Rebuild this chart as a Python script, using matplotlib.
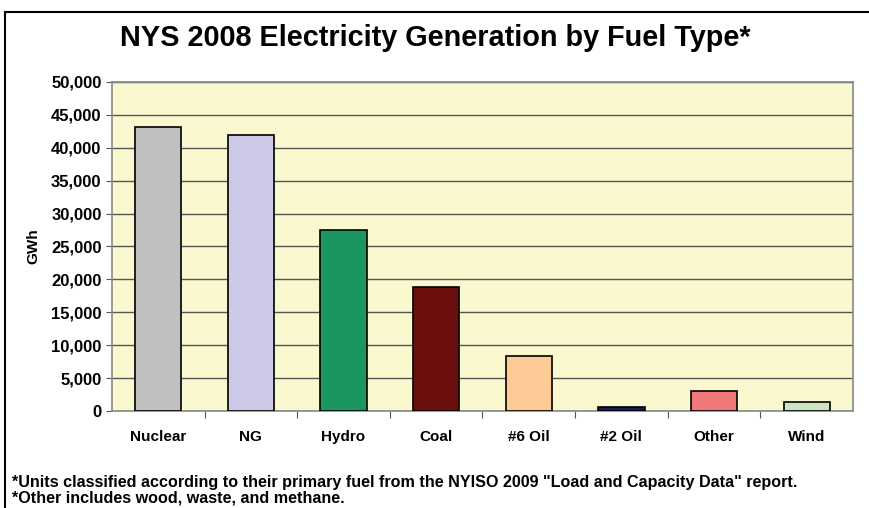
import matplotlib.pyplot as plt
from matplotlib.patches import Rectangle
from matplotlib.ticker import FuncFormatter

fuels = ['Nuclear', 'NG', 'Hydro', 'Coal', '#6 Oil', '#2 Oil', 'Other', 'Wind']
gwh = [43200, 41900, 27500, 18800, 8400, 560, 3050, 1300]
colors = ['#C0C0C0', '#CCCAE6', '#1A9660', '#6B0F0F', '#FCCB96', '#131B5E', '#F07878', '#CCE6C4']

plt.rcParams['font.family'] = ['Liberation Sans', 'DejaVu Sans']

fig = plt.figure(figsize=(8.7, 5.08), dpi=100)
W, H = 870, 508
ax = fig.add_axes([112 / W, 1 - 411 / H, (853 - 112) / W, (411 - 82) / H])

# outer frame
fig.add_artist(Rectangle((5 / W, -0.1), 1.2, 1 - 12 / H + 0.1, transform=fig.transFigure,
                         fill=False, edgecolor='black', linewidth=1.5))

x = range(len(fuels))
ax.set_facecolor('#FAF8CE')
ax.bar(x, gwh, width=0.5, color=colors, edgecolor='black', linewidth=1.2, zorder=3)
ax.set_xlim(-0.5, len(fuels) - 0.5)
ax.set_ylim(0, 50000)
ax.set_yticks(range(0, 50001, 5000))
ax.yaxis.set_major_formatter(FuncFormatter(lambda v, p: f'{int(v):,}'))
ax.grid(axis='y', color='#555555', linewidth=1, zorder=0)
ax.set_xticks([i - 0.5 for i in range(1, len(fuels))], minor=False)
ax.set_xticks(list(x), minor=True)
ax.set_xticklabels([], minor=False)
ax.set_xticklabels(fuels, minor=True, fontsize=11, fontweight='bold')
ax.tick_params(axis='x', which='major', length=5, color='#555555')
ax.tick_params(axis='x', which='minor', length=0, pad=14)
ax.tick_params(axis='y', length=4, color='#555555', labelsize=12)
for lab in ax.get_yticklabels():
    lab.set_fontweight('bold')
for s in ax.spines.values():
    s.set_color('#888888')
    s.set_linewidth(1.2)
ax.set_ylabel('GWh', fontsize=11, fontweight='bold', labelpad=8)

fig.text(0.5, 1 - 38 / H, 'NYS 2008 Electricity Generation by Fuel Type*', ha='center', va='center',
         fontsize=20.8, fontweight='bold')
fig.text(12 / W, 1 - 482 / H,
         '*Units classified according to their primary fuel from the NYISO 2009 "Load and Capacity Data" report.',
         fontsize=11.6, fontweight='bold', va='center')
fig.text(12 / W, 1 - 498 / H, '*Other includes wood, waste, and methane.',
         fontsize=11.6, fontweight='bold', va='center')

fig.savefig('out.png', dpi=100)
